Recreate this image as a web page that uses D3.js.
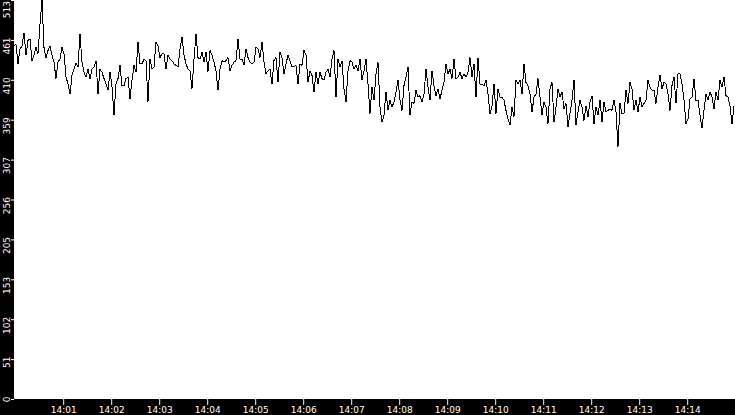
<html>
    <head>
        <title>Line 15 min</title>
        <style>
            body { margin: 0; background: #fff; }
            svg { display: block; }
        </style>
    </head>

    <body>
        <div id="svghere">
        </div>

        <script src="https://d3js.org/d3.v7.min.js"></script>
        <script>
        // one sample every 2.5 seconds
        var startTime = new Date(2020, 0, 1, 13, 59, 58, 500);
        var stepSeconds = 2.5;

        var values = [
            454,456,431,450,454,471,442,461,463,435,
            442,452,444,482,513,452,439,448,454,442,
            433,412,433,437,452,444,414,405,392,416,
            424,432,427,469,433,420,414,424,412,424,
            427,435,392,424,420,412,405,397,421,401,
            365,405,412,429,403,403,412,414,386,410,
            429,420,459,431,431,437,435,382,437,424,
            427,459,454,439,444,444,424,442,437,435,
            431,429,427,450,465,442,431,424,422,399,
            437,469,439,437,446,433,446,421,448,442,
            433,422,397,424,435,433,435,439,422,429,
            433,435,463,437,437,429,450,439,433,
            431,433,452,450,439,459,433,418,422,424,
            405,435,439,407,446,439,418,431,442,435,
            427,427,429,405,431,429,448,442,407,422,
            416,395,420,405,420,412,410,420,424,414,
            437,448,388,437,427,435,399,382,422,435,
            433,424,429,422,437,410,422,
            437,405,367,401,384,418,433,375,356,365,
            395,371,384,375,382,395,410,384,371,403,
            414,427,365,382,380,397,388,390,382,392,
            424,401,384,422,403,390,399,386,397,407,
            431,418,424,412,437,412,414,420,412,418,
            414,420,439,414,431,388,439,405,405,403,
            410,392,367,377,405,367,399,388,388,384,
            371,360,352,375,363,410,405,410,392,431,
            407,403,392,369,388,392,412,388,365,382,
            375,354,399,407,356,375,399,388,395,373,
            380,350,367,384,410,352,369,384,375,358,
            377,363,382,390,354,375,365,384,356,382,
            369,371,373,371,384,369,324,380,367,367,
            397,380,407,399,371,384,369,388,375,380,
            384,410,401,397,397,380,401,416,399,407,
            405,392,371,403,414,380,418,418,405,384,
            354,360,386,388,412,384,384,365,348,371,
            392,384,395,388,373,395,384,410,401,414,
            390,388,377,354,377
        ];

        var xTickLabels = ['14:01', '14:02', '14:03', '14:04', '14:05', '14:06', '14:07',
                           '14:08', '14:09', '14:10', '14:11', '14:12', '14:13', '14:14'];
        var yDivisions = 10;

        var width = 735;
        var height = 415;
        var left = 14;
        var bottom = 399;

        var data = values.map(function(v, i) {
            return { t: new Date(startTime.getTime() + i * stepSeconds * 1000), v: v };
        });

        var svg = d3.select("#svghere")
            .append('svg')
            .attr('width', width)
            .attr('height', height);

        var x = d3.scaleTime()
            .domain(d3.extent(data, function(d) { return d.t; }))
            .range([left, width - 1]);

        var yMax = d3.max(values);
        var y = d3.scaleLinear()
            .domain([0, yMax])
            .range([bottom, 0]);

        // black axis strips
        svg.append('rect')
            .attr('x', 0).attr('y', 0)
            .attr('width', left).attr('height', height)
            .attr('fill', '#000');
        svg.append('rect')
            .attr('x', 0).attr('y', bottom)
            .attr('width', width).attr('height', height - bottom)
            .attr('fill', '#000');

        var line = d3.line()
            .x(function(d) { return x(d.t); })
            .y(function(d) { return y(d.v); });

        svg.append('path')
            .datum(data)
            .attr('d', line)
            .attr('fill', 'none')
            .attr('stroke', '#000')
            .attr('stroke-width', 1)
            .attr('shape-rendering', 'crispEdges');

        // y axis, ten equal steps of the max
        var yTicks = d3.range(0, yDivisions + 1).map(function(i) { return yMax * i / yDivisions; });

        var yAxis = svg.append('g')
            .attr('transform', 'translate(' + left + ',0)')
            .call(d3.axisLeft(y)
                .tickValues(yTicks)
                .tickFormat(function(d) { return Math.floor(d); })
                .tickSize(3))
            .attr('font-family', '"DejaVu Sans", sans-serif')
            .attr('font-size', 9);

        yAxis.select('.domain').remove();
        yAxis.selectAll('.tick line').attr('stroke', '#fff');
        yAxis.selectAll('.tick text')
            .attr('fill', '#fff')
            .attr('text-anchor', 'end')
            .attr('transform', 'rotate(-90)')
            .attr('x', function(d) { return Math.min(3, y(d) - 0.5); })
            .attr('y', -4)
            .attr('dy', 0);

        // x axis
        var parseTime = d3.timeParse('%H:%M');
        var xTicks = xTickLabels.map(function(s) {
            var p = parseTime(s);
            return new Date(2020, 0, 1, p.getHours(), p.getMinutes());
        });

        var xAxis = svg.append('g')
            .attr('transform', 'translate(0,' + bottom + ')')
            .call(d3.axisBottom(x)
                .tickValues(xTicks)
                .tickFormat(d3.timeFormat('%H:%M'))
                .tickSize(6))
            .attr('font-family', '"DejaVu Sans", sans-serif')
            .attr('font-size', 9);

        xAxis.select('.domain').remove();
        xAxis.selectAll('.tick line').attr('stroke', '#fff');
        xAxis.selectAll('.tick text')
            .attr('fill', '#fff')
            .attr('y', 14)
            .attr('dy', 0);
        </script>
    </body>
</html>
